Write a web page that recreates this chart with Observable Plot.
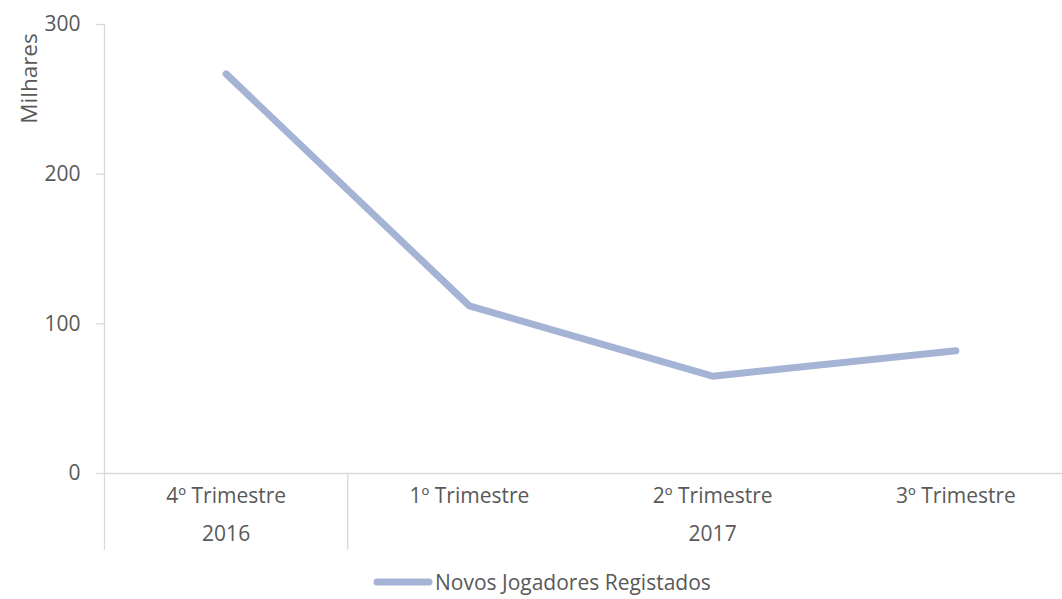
<!DOCTYPE html>
<html>
<head>
<meta charset="utf-8">
<script src="https://cdn.jsdelivr.net/npm/d3@7"></script>
<script src="https://cdn.jsdelivr.net/npm/@observablehq/plot@0.6"></script>
<style>
  html, body { margin: 0; padding: 0; background: #fff; }
  #legend { display: flex; align-items: center; height: 34px; margin-left: 373px;
    font-family: 'Open Sans', sans-serif; font-size: 21px; color: #595959; }
  #legend svg { display: block; margin-right: 2px; }
</style>
</head>
<body>
<div id="chart"></div>
<div id="legend"></div>
<script>
const quarters = ["4º Trimestre", "1º Trimestre", "2º Trimestre", "3º Trimestre"];
const years = ["2016", "2017", "2017", "2017"];
const values = [267, 112, 65, 82];
const yTicks = [0, 100, 200, 300];
const seriesName = "Novos Jogadores Registados";
const yLabel = "Milhares";

const lineColor = "#a5b4d5";
const gridColor = "#d9d9d9";
const textColor = "#595959";

const idx = quarters.map((_, i) => i);
const groups = d3.groups(idx, i => years[i]).map(([year, is]) => ({
  year, mid: d3.mean(is), start: d3.min(is) - 0.5
}));
const boundaries = groups.map(g => g.start);

const chart = Plot.plot({
  width: 1062,
  height: 565,
  marginLeft: 104,
  marginRight: 0,
  marginTop: 24,
  marginBottom: 92,
  style: { fontFamily: "'Open Sans', sans-serif", fontSize: "21px", color: textColor, background: "white" },
  x: { domain: [-0.5, quarters.length - 0.5], range: [104, 104 + 243.25 * quarters.length] },
  y: { domain: [0, 300] },
  marks: [
    Plot.ruleX([-0.5], { stroke: gridColor, strokeWidth: 1.3 }),
    Plot.ruleY([0], { stroke: gridColor, strokeWidth: 1.3 }),
    Plot.axisY({ ticks: yTicks, tickSize: 8, tickPadding: 16, stroke: gridColor, fill: textColor, strokeWidth: 1.3, label: null, fontSize: 21 }),
    Plot.axisX({ ticks: boundaries, tickSize: 77, tickFormat: () => "", stroke: gridColor, strokeWidth: 1.3, label: null }),
    Plot.text(quarters, { x: (d, i) => i, text: d => d, frameAnchor: "bottom", dy: 29, fill: textColor, fontSize: 21 }),
    Plot.text(groups, { x: "mid", text: "year", frameAnchor: "bottom", dy: 67, fill: textColor, fontSize: 21 }),
    Plot.text([yLabel], { frameAnchor: "top-left", rotate: -90, dx: -83, dy: 54, fill: textColor, fontSize: 22.5, textAnchor: "middle" }),
    Plot.line(values, { x: (d, i) => i, y: d => d, stroke: lineColor, strokeWidth: 7, strokeLinecap: "round", strokeLinejoin: "round" })
  ]
});
document.getElementById("chart").appendChild(chart);

const legend = document.getElementById("legend");
legend.innerHTML = `<svg width="60" height="10"><line x1="4" y1="5" x2="56" y2="5" stroke="${lineColor}" stroke-width="7" stroke-linecap="round"/></svg><span></span>`;
legend.querySelector("span").textContent = seriesName;
</script>
</body>
</html>
